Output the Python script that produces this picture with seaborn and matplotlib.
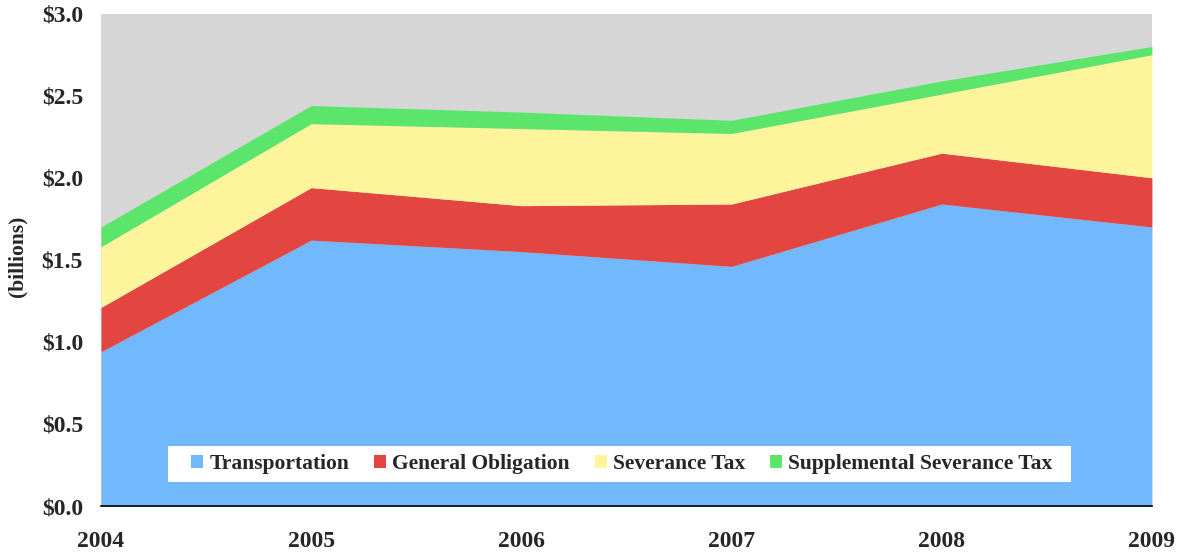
import numpy as np
import seaborn as sns
import matplotlib.pyplot as plt
from matplotlib.patches import Patch, Rectangle

years = [2004, 2005, 2006, 2007, 2008, 2009]
transportation = [0.94, 1.62, 1.55, 1.46, 1.84, 1.70]
general_obligation = [0.27, 0.32, 0.28, 0.38, 0.31, 0.30]
severance_tax = [0.37, 0.39, 0.47, 0.43, 0.36, 0.75]
supplemental = [0.12, 0.11, 0.10, 0.08, 0.08, 0.05]

labels = ['Transportation', 'General Obligation', 'Severance Tax',
          'Supplemental Severance Tax']
colors = ['#71b8fd', '#e34541', '#fef49c', '#5be56b']

sns.set_style('white')
plt.rcParams['font.family'] = ['Liberation Serif', 'DejaVu Serif']
plt.rcParams['font.weight'] = 'bold'

fig = plt.figure(figsize=(11.8, 5.52), dpi=100)
ax = fig.add_axes([0.0856, 0.0833, 0.8906, 0.892])
ax.set_facecolor('#d6d6d6')

ax.stackplot(years, transportation, general_obligation, severance_tax,
             supplemental, colors=colors, linewidth=0)

ax.set_xlim(2004, 2009)
ax.set_ylim(0, 3.0)
ax.set_xticks(years)
ax.set_xticklabels([str(y) for y in years], fontsize=17, fontweight='bold')
yt = np.arange(0, 3.01, 0.5)
ax.set_yticks(yt)
ax.set_yticklabels(['$%.1f' % v for v in yt], fontsize=17, fontweight='bold')
ax.tick_params(axis='x', length=0, pad=18)
ax.tick_params(axis='y', length=0, pad=13)
ax.set_ylabel('(billions)', fontsize=15.5, fontweight='bold')
ax.yaxis.set_label_coords(-0.0695, 0.507)

for s in ['top', 'right', 'left']:
    ax.spines[s].set_visible(False)
ax.spines['bottom'].set_color('black')
ax.spines['bottom'].set_linewidth(1.2)

# white box behind the legend (wider than the legend's own frame)
ax.add_patch(Rectangle((0.0637, 0.0489), 0.8593, 0.0733, transform=ax.transAxes,
                       facecolor='white', edgecolor='none', zorder=4))

handles = [Patch(facecolor=c, edgecolor='none') for c in colors]
leg = ax.legend(handles, labels, ncol=4, loc='center',
                bbox_to_anchor=(0.4957, 0.0855), frameon=False,
                prop={'size': 15.5, 'weight': 'bold'}, handlelength=0.55,
                handleheight=0.55, handletextpad=0.3, columnspacing=1.15,
                borderpad=0.4, borderaxespad=0)
leg.set_zorder(5)

fig.savefig('out.png', dpi=100)
